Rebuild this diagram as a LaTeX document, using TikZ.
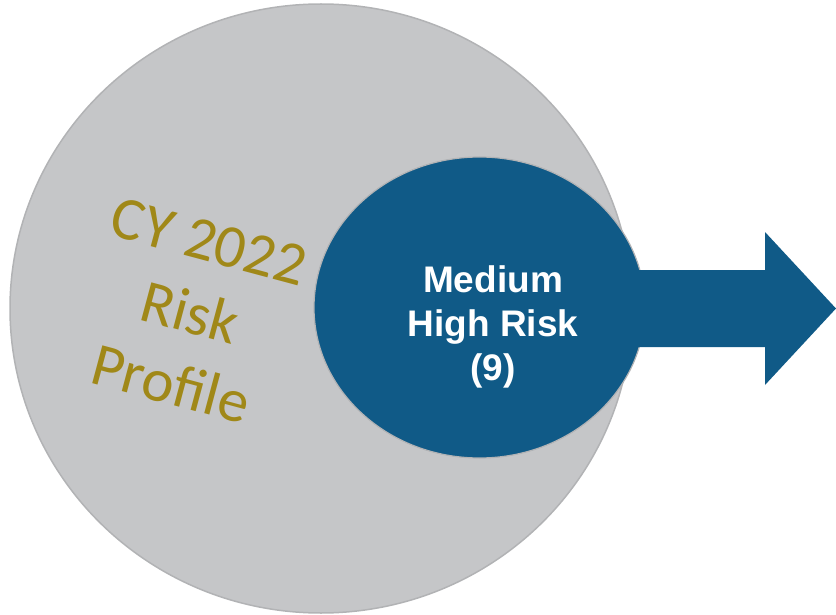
\documentclass[tikz,border=0pt]{standalone}
\usepackage{fontspec}
\usetikzlibrary{shapes.geometric}
\newfontfamily\calibrifont{Carlito}
\newfontfamily\arialfont{Liberation Sans}
\definecolor{ringgray}{HTML}{C5C6C8}
\definecolor{ringedge}{HTML}{B2B3B5}
\definecolor{riskblue}{HTML}{105A87}
\definecolor{olivegold}{HTML}{A08818}
\tikzset{
  outerdisc/.style={ellipse, fill=ringgray, draw=ringedge, line width=1.5pt,
    minimum width=622pt, minimum height=609pt, inner sep=0pt},
  innerdisc/.style={ellipse, fill=riskblue, draw=ringedge, line width=1.2pt,
    minimum width=331pt, minimum height=301pt, inner sep=0pt},
  bigarrow/.style={fill=riskblue, draw=none},
  profiletext/.style={text=olivegold, font=\calibrifont\fontsize{61}{74}\selectfont,
    align=center, rotate=-15, inner sep=0pt},
  risktext/.style={text=white, font=\arialfont\bfseries\fontsize{37}{44}\selectfont,
    align=center, inner sep=0pt}
}
\begin{document}
\begin{tikzpicture}[x=1pt, y=-1pt]
  \useasboundingbox (0,0) rectangle (836,615);
  % large grey disc holding the profile label
  \node[outerdisc] (profile) at (321,308.5) {};
  \node[profiletext] (profilelabel) at (190,313) {CY 2022\\Risk\\Profile};
  % dark blue disc for the medium-high risk group
  \node[innerdisc] (medium) at (479.5,307.5) {};
  % block arrow leaving the blue disc
  \draw[bigarrow] (620,270) -- (765,270) -- (765,232) -- (836,308.5)
    -- (765,385) -- (765,347) -- (620,347) -- cycle;
  \node[risktext] (mediumlabel) at (493,327) {Medium\\High Risk\\(9)};
\end{tikzpicture}
\end{document}
